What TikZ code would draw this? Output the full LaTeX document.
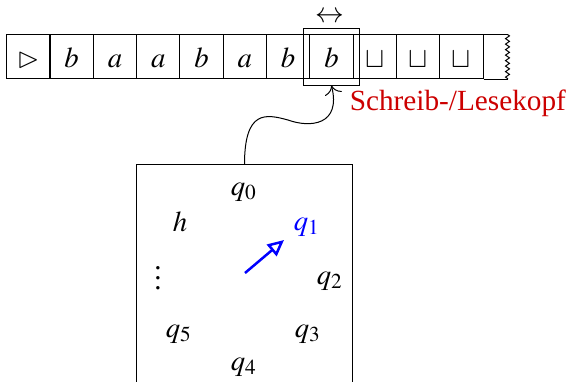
\documentclass[tikz,border=0pt]{standalone}
\usepackage{mathptmx}
\usepackage{amssymb}
\usepackage[no-math]{fontspec}
\setmainfont{Liberation Serif}
\newfontfamily\labelfont{Liberation Serif}
\usepackage{tikz}
\usetikzlibrary{arrows.meta,positioning,fit,decorations.pathmorphing}
\definecolor{Headred}{HTML}{CC0000}
\definecolor{Stateblue}{HTML}{0000FF}

\begin{document}
\begin{tikzpicture}[x=0.4pt, y=0.4pt, font=\fontsize{11.5}{13}\selectfont,
    cell/.style={draw, minimum width=17.32pt, minimum height=17.6pt, inner sep=0pt, text height=10pt, text depth=2pt},
    pointer/.style={-{Triangle[open, length=6.5pt, width=6pt]}, line width=1pt, color=Stateblue}]
    \clip (0,0) rectangle (568,381);
    % tape
    \foreach \sym [count=\i from 0] in {\vartriangleright,b,a,a,b,a,b,b,\sqcup,\sqcup,\sqcup}
      \node[cell] (c\i) at ({28.35+43.3*\i},324) {$\sym$};
    \draw (c10.north east) -- ++(24,0) coordinate (tapetop);
    \draw (c10.south east) -- ++(24,0) coordinate (tapebot);
    \draw[decorate, decoration={zigzag, segment length=2.2pt, amplitude=0.8pt}] (tapetop) -- (tapebot);
    % head
    \node[draw, fit=(c7), inner sep=2.2pt] (head) {};
    \node[inner sep=0pt] (move) at (330,364) {$\leftrightarrow$};
    \node[text=Headred, anchor=west, font=\labelfont\fontsize{11.7}{13}\selectfont] (label) at (341,278) {Schreib-/Lesekopf};
    % control unit
    \node[draw, minimum width=86pt, minimum height=100pt] (ctrl) at (244.5,91) {};
    \coordinate (wave) at (288,261);
    \draw[-{To[length=3.5pt, width=7pt]}] (ctrl.north) .. controls +(0,55) and +(-22,6) .. (wave)
      .. controls +(22,-8) and +(10,-40) .. (head.south);
    \node (q0) at (244,189) {$q_0$};
    \node[text=Stateblue] (q1) at (307,154) {$q_1$};
    \node (q2) at (330,100) {$q_2$};
    \node (q3) at (308,47) {$q_3$};
    \node (q4) at (244,14) {$q_4$};
    \node (q5) at (179,47) {$q_5$};
    \node (dots) at (158,110) {$\vdots$};
    \node (h) at (180,159) {$h$};
    \coordinate (hand) at (245,108);
    \coordinate (handtip) at (284,141);
    \draw[pointer] (hand) -- (handtip);
\end{tikzpicture}
\end{document}
